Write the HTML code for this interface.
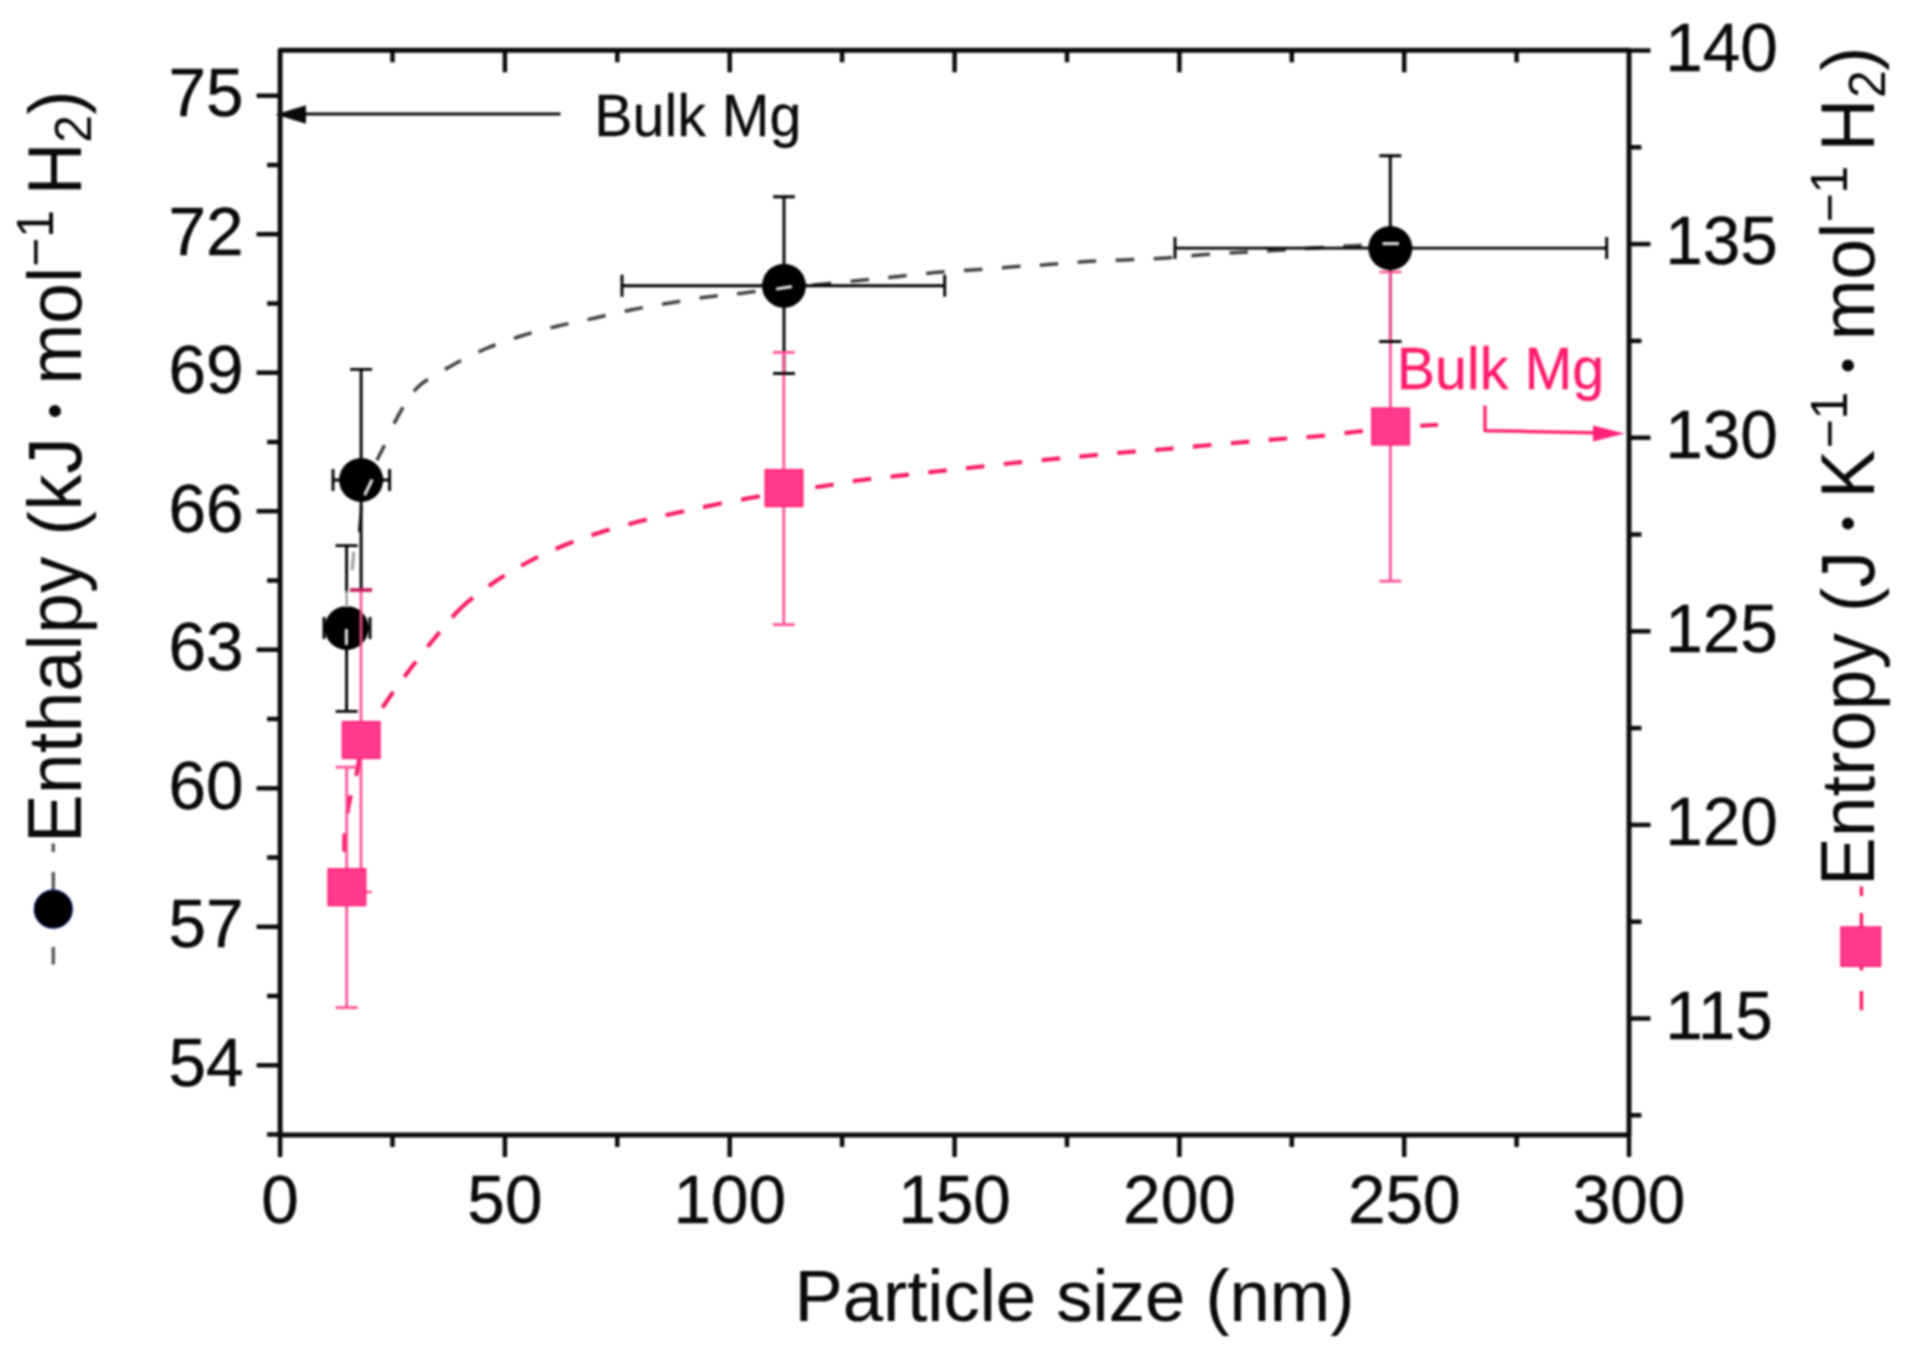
<!DOCTYPE html>
<html lang="en"><head><meta charset="utf-8"><title>Enthalpy and entropy vs particle size</title>
<style>html,body{margin:0;padding:0;background:#fff;}body{width:1907px;height:1359px;overflow:hidden;}svg{display:block;filter:blur(0.8px);}text{stroke-width:0.4px;stroke-linejoin:round;paint-order:stroke fill;}</style>
</head><body>
<svg width="1907" height="1359" viewBox="0 0 1907 1359">
<rect width="1907" height="1359" fill="#ffffff"/>
<g stroke="#0a0a0a" stroke-width="4.5" stroke-linecap="butt" fill="none">
<line x1="280.1" y1="1135.0" x2="280.1" y2="1157.0"/>
<line x1="392.5" y1="1135.0" x2="392.5" y2="1147.0"/>
<line x1="392.5" y1="50.3" x2="392.5" y2="62.3"/>
<line x1="504.9" y1="1135.0" x2="504.9" y2="1157.0"/>
<line x1="504.9" y1="50.3" x2="504.9" y2="72.3"/>
<line x1="617.3" y1="1135.0" x2="617.3" y2="1147.0"/>
<line x1="617.3" y1="50.3" x2="617.3" y2="62.3"/>
<line x1="729.7" y1="1135.0" x2="729.7" y2="1157.0"/>
<line x1="729.7" y1="50.3" x2="729.7" y2="72.3"/>
<line x1="842.1" y1="1135.0" x2="842.1" y2="1147.0"/>
<line x1="842.1" y1="50.3" x2="842.1" y2="62.3"/>
<line x1="954.6" y1="1135.0" x2="954.6" y2="1157.0"/>
<line x1="954.6" y1="50.3" x2="954.6" y2="72.3"/>
<line x1="1067.0" y1="1135.0" x2="1067.0" y2="1147.0"/>
<line x1="1067.0" y1="50.3" x2="1067.0" y2="62.3"/>
<line x1="1179.4" y1="1135.0" x2="1179.4" y2="1157.0"/>
<line x1="1179.4" y1="50.3" x2="1179.4" y2="72.3"/>
<line x1="1291.8" y1="1135.0" x2="1291.8" y2="1147.0"/>
<line x1="1291.8" y1="50.3" x2="1291.8" y2="62.3"/>
<line x1="1404.2" y1="1135.0" x2="1404.2" y2="1157.0"/>
<line x1="1404.2" y1="50.3" x2="1404.2" y2="72.3"/>
<line x1="1516.6" y1="1135.0" x2="1516.6" y2="1147.0"/>
<line x1="1516.6" y1="50.3" x2="1516.6" y2="62.3"/>
<line x1="1629.0" y1="1135.0" x2="1629.0" y2="1157.0"/>
<line x1="256.6" y1="95.7" x2="280.1" y2="95.7"/>
<line x1="267.1" y1="165.0" x2="280.1" y2="165.0"/>
<line x1="256.6" y1="234.2" x2="280.1" y2="234.2"/>
<line x1="267.1" y1="303.5" x2="280.1" y2="303.5"/>
<line x1="256.6" y1="372.7" x2="280.1" y2="372.7"/>
<line x1="267.1" y1="442.0" x2="280.1" y2="442.0"/>
<line x1="256.6" y1="511.2" x2="280.1" y2="511.2"/>
<line x1="267.1" y1="580.5" x2="280.1" y2="580.5"/>
<line x1="256.6" y1="649.7" x2="280.1" y2="649.7"/>
<line x1="267.1" y1="719.0" x2="280.1" y2="719.0"/>
<line x1="256.6" y1="788.3" x2="280.1" y2="788.3"/>
<line x1="267.1" y1="857.5" x2="280.1" y2="857.5"/>
<line x1="256.6" y1="926.8" x2="280.1" y2="926.8"/>
<line x1="267.1" y1="996.0" x2="280.1" y2="996.0"/>
<line x1="256.6" y1="1065.3" x2="280.1" y2="1065.3"/>
<line x1="267.1" y1="1134.5" x2="280.1" y2="1134.5"/>
<line x1="1629.0" y1="50.5" x2="1650.5" y2="50.5"/>
<line x1="1629.0" y1="147.3" x2="1641.5" y2="147.3"/>
<line x1="1629.0" y1="244.1" x2="1650.5" y2="244.1"/>
<line x1="1629.0" y1="340.9" x2="1641.5" y2="340.9"/>
<line x1="1629.0" y1="437.7" x2="1650.5" y2="437.7"/>
<line x1="1629.0" y1="534.5" x2="1641.5" y2="534.5"/>
<line x1="1629.0" y1="631.3" x2="1650.5" y2="631.3"/>
<line x1="1629.0" y1="728.1" x2="1641.5" y2="728.1"/>
<line x1="1629.0" y1="824.9" x2="1650.5" y2="824.9"/>
<line x1="1629.0" y1="921.7" x2="1641.5" y2="921.7"/>
<line x1="1629.0" y1="1018.5" x2="1650.5" y2="1018.5"/>
<line x1="1629.0" y1="1115.3" x2="1641.5" y2="1115.3"/>
</g>
<rect x="280.1" y="50.3" width="1348.9" height="1084.7" fill="none" stroke="#0a0a0a" stroke-width="4.9" stroke-linejoin="round"/>
<g font-family="Liberation Sans, Arial, Helvetica, sans-serif" font-size="67.5" fill="#0a0a0a" stroke="#0a0a0a">
<text transform="translate(243.5,1085.9) scale(1,1.02)" text-anchor="end">54</text>
<text transform="translate(243.5,947.4) scale(1,1.02)" text-anchor="end">57</text>
<text transform="translate(243.5,808.9) scale(1,1.02)" text-anchor="end">60</text>
<text transform="translate(243.5,670.3) scale(1,1.02)" text-anchor="end">63</text>
<text transform="translate(243.5,531.8) scale(1,1.02)" text-anchor="end">66</text>
<text transform="translate(243.5,393.3) scale(1,1.02)" text-anchor="end">69</text>
<text transform="translate(243.5,254.8) scale(1,1.02)" text-anchor="end">72</text>
<text transform="translate(243.5,116.3) scale(1,1.02)" text-anchor="end">75</text>
<text transform="translate(1665.2,1038.7) scale(1,1.02)">115</text>
<text transform="translate(1665.2,845.1) scale(1,1.02)">120</text>
<text transform="translate(1665.2,651.5) scale(1,1.02)">125</text>
<text transform="translate(1665.2,457.9) scale(1,1.02)">130</text>
<text transform="translate(1665.2,264.3) scale(1,1.02)">135</text>
<text transform="translate(1665.2,70.7) scale(1,1.02)">140</text>
<text transform="translate(280.1,1222.8) scale(1,1.02)" text-anchor="middle">0</text>
<text transform="translate(504.9,1222.8) scale(1,1.02)" text-anchor="middle">50</text>
<text transform="translate(729.7,1222.8) scale(1,1.02)" text-anchor="middle">100</text>
<text transform="translate(954.6,1222.8) scale(1,1.02)" text-anchor="middle">150</text>
<text transform="translate(1179.4,1222.8) scale(1,1.02)" text-anchor="middle">200</text>
<text transform="translate(1404.2,1222.8) scale(1,1.02)" text-anchor="middle">250</text>
<text transform="translate(1629.0,1222.8) scale(1,1.02)" text-anchor="middle">300</text>
</g>
<path id="gcurve" d="M398.0,416.0 C404.3,405.3 409.2,395.3 418.0,387.0 C426.8,378.7 439.8,372.3 451.0,366.0 C462.2,359.7 473.3,354.0 485.0,349.0 C496.7,344.0 508.8,339.8 521.0,336.0 C533.2,332.2 545.7,329.0 558.0,326.0 C570.3,323.0 582.5,320.8 595.0,318.0 C607.5,315.2 620.5,312.0 633.0,309.5 C645.5,307.0 657.7,305.1 670.0,303.0 C682.3,300.9 694.7,298.7 707.0,297.0 C719.3,295.3 731.2,294.5 744.0,293.0 C756.8,291.5 764.8,290.1 784.0,288.0 C803.2,285.9 840.3,282.4 859.0,280.5 C877.7,278.6 883.3,278.0 896.0,276.7 C908.7,275.4 922.3,273.7 935.0,272.6 C947.7,271.5 959.3,270.9 972.0,270.0 C984.7,269.1 998.3,267.9 1011.0,267.0 C1023.7,266.1 1035.5,265.5 1048.0,264.6 C1060.5,263.7 1073.3,262.4 1086.0,261.6 C1098.7,260.8 1111.3,260.6 1124.0,260.0 C1136.7,259.4 1149.5,259.0 1162.0,258.2 C1174.5,257.4 1186.3,256.0 1199.0,255.0 C1211.7,254.0 1225.3,253.1 1238.0,252.4 C1250.7,251.7 1259.7,251.5 1275.0,250.6 C1290.3,249.7 1310.8,248.1 1330.0,247.0 C1349.2,245.9 1380.0,244.5 1390.0,244.0" fill="none" stroke="#404040" stroke-width="3.5" stroke-dasharray="18.5 19.5" stroke-dashoffset="8.55"/>
<path d="M376.9,460.3 L384.5,445.2 M394.1,423.6 L398.4,415.3" fill="none" stroke="#404040" stroke-width="3.5"/>
<path id="pcurve0" d="M346.7,887.7 C346.3,880.1 343.9,855.8 344.3,842.0 C344.7,828.2 346.6,817.2 348.8,805.0 C351.0,792.8 355.5,779.8 357.5,769.0 C359.5,758.2 360.4,745.2 361.0,740.5" fill="none" stroke="#f81a66" stroke-width="4.1" stroke-dasharray="18.5 20" stroke-dashoffset="-36"/>
<path id="pcurveA" d="M361.0,740.5 C365.7,733.4 380.7,710.1 389.0,698.0 C397.3,685.9 403.5,677.8 411.0,668.0 C418.5,658.2 425.5,649.2 434.0,639.0 C442.5,628.8 451.7,616.7 462.0,607.0" fill="none" stroke="#f81a66" stroke-width="4.1" stroke-dasharray="19 19" stroke-dashoffset="-39.2"/>
<path id="pcurveB" d="M462.0,607.0 C472.3,597.3 484.7,588.7 496.0,581.0 C507.3,573.3 518.5,567.0 530.0,561.0 C541.5,555.0 553.3,549.8 565.0,545.0 C576.7,540.2 588.0,536.3 600.0,532.5 C612.0,528.7 624.8,525.2 637.0,522.0 C649.2,518.8 661.2,516.2 673.5,513.5 C685.8,510.8 698.2,508.1 711.0,505.5 C723.8,502.9 737.8,500.2 750.0,498.0 C762.2,495.8 771.7,494.0 784.0,492.0" fill="none" stroke="#f81a66" stroke-width="4.1" stroke-dasharray="19 19.4" stroke-dashoffset="4.5"/>
<path id="pcurveC" d="M784.0,492.0 C796.3,490.0 811.0,488.0 824.0,486.0 C837.0,484.0 849.3,481.7 862.0,480.0 C874.7,478.3 887.3,477.1 900.0,475.6 C912.7,474.2 925.5,472.7 938.0,471.3 C950.5,469.9 962.5,468.7 975.0,467.3 C987.5,465.9 1000.3,464.4 1013.0,463.0 C1025.7,461.6 1038.5,460.4 1051.0,459.2 C1063.5,458.0 1075.5,457.0 1088.0,455.8 C1100.5,454.6 1113.3,453.3 1126.0,452.2 C1138.7,451.1 1151.3,450.3 1164.0,449.2 C1176.7,448.1 1189.3,446.9 1202.0,445.8 C1214.7,444.7 1227.5,443.6 1240.0,442.5 C1252.5,441.4 1264.5,440.2 1277.0,439.2 C1289.5,438.2 1302.2,437.7 1315.0,436.5 C1327.8,435.3 1341.5,433.4 1354.0,432.0 C1366.5,430.6 1376.0,429.2 1390.0,428.0 C1404.0,426.8 1430.0,425.2 1438.0,424.7" fill="none" stroke="#f81a66" stroke-width="4.1" stroke-dasharray="18.5 19.5" stroke-dashoffset="6.4"/>
<line x1="359" y1="532" x2="361.5" y2="506" stroke="#333" stroke-width="2.6"/>
<line x1="352.2" y1="570" x2="353.8" y2="552" stroke="#9a9a9a" stroke-width="3"/>
<path d="M346.6,545.6 V711.4 M335.6,545.6 H357.6 M335.6,711.4 H357.6" stroke="#000000" stroke-width="2.9" fill="none"/>
<path d="M324,628 H370 M324,617.0 V639.0 M370,617.0 V639.0" stroke="#000000" stroke-width="2.9" fill="none"/>
<path d="M361.1,369.4 V590 M350.1,369.4 H372.1 M350.1,590 H372.1" stroke="#000000" stroke-width="2.9" fill="none"/>
<path d="M333,480 H389.6 M333,469.0 V491.0 M389.6,469.0 V491.0" stroke="#000000" stroke-width="2.9" fill="none"/>
<path d="M784,196.8 V373.4 M773.0,196.8 H795.0 M773.0,373.4 H795.0" stroke="#000000" stroke-width="2.9" fill="none"/>
<path d="M622,285.8 H944.7 M622,274.8 V296.8 M944.7,274.8 V296.8" stroke="#000000" stroke-width="2.9" fill="none"/>
<path d="M1390.3,155.7 V341.6 M1379.3,155.7 H1401.3 M1379.3,341.6 H1401.3" stroke="#000000" stroke-width="2.9" fill="none"/>
<path d="M1175,248.1 H1606.7 M1175,237.1 V259.1 M1606.7,237.1 V259.1" stroke="#000000" stroke-width="2.9" fill="none"/>
<path d="M346.7,767.1 V1007.7 M335.7,767.1 H357.7 M335.7,1007.7 H357.7" stroke="#ff4f97" stroke-width="2.7" fill="none"/>
<path d="M361.0,590 V892 M350.0,590 H372.0 M350.0,892 H372.0" stroke="#ff4f97" stroke-width="2.7" fill="none"/>
<path d="M783.8,352.4 V624.7 M772.8,352.4 H794.8 M772.8,624.7 H794.8" stroke="#ff4f97" stroke-width="2.7" fill="none"/>
<path d="M1390.4,272 V581.2 M1379.4,272 H1401.4 M1379.4,581.2 H1401.4" stroke="#ff4f97" stroke-width="2.7" fill="none"/>
<path d="M773,373.4 H795 M1379.3,341.6 H1401.3" stroke="#000000" stroke-width="2.9" fill="none"/>
<path d="M350,590 H372" stroke="#d0185c" stroke-width="3" fill="none"/>
<rect x="328.2" y="868.9000000000001" width="37.4" height="36.6" fill="#ff398c" stroke="#ff2077" stroke-width="1.6"/>
<rect x="342.5" y="721.7" width="37.4" height="36.6" fill="#ff398c" stroke="#ff2077" stroke-width="1.6"/>
<rect x="765.3" y="469.8" width="37.4" height="36.6" fill="#ff398c" stroke="#ff2077" stroke-width="1.6"/>
<rect x="1371.9" y="408.2" width="37.4" height="36.6" fill="#ff398c" stroke="#ff2077" stroke-width="1.6"/>
<circle cx="346.6" cy="628" r="22" fill="#000"/>
<circle cx="361.1" cy="480" r="22" fill="#000"/>
<circle cx="784" cy="285.8" r="22" fill="#000"/>
<circle cx="1390.3" cy="248.1" r="22" fill="#000"/>
<line x1="346.6" y1="591.5" x2="346.6" y2="607" stroke="#ffffff" stroke-width="4.5"/>
<line x1="346.6" y1="590" x2="346.6" y2="607" stroke="#60606a" stroke-width="1.5"/>
<line x1="361" y1="611" x2="361" y2="645" stroke="#ea4a85" stroke-width="2.8"/>
<g stroke="#dcdcdc" stroke-width="3.2" fill="none">
<line x1="346.4" y1="629" x2="346.4" y2="645"/>
<line x1="364.6" y1="495.3" x2="372.2" y2="479.5"/>
<line x1="776" y1="289" x2="792" y2="286.6"/>
<line x1="1382.5" y1="243.6" x2="1399" y2="243.6"/>
</g>
<line x1="560.5" y1="114" x2="300" y2="114" stroke="#0a0a0a" stroke-width="3.2"/>
<path d="M275.5,114.5 L306,105.3 L306,123.7 Z" fill="#0a0a0a"/>
<text transform="translate(594.2,135.8) scale(1,1.02)" font-family="Liberation Sans, Arial, Helvetica, sans-serif" font-size="57.4" fill="#0a0a0a" stroke="#0a0a0a" style="stroke-width:0.3px">Bulk Mg</text>
<path d="M1485,405.5 V430.6 L1597,432.8" fill="none" stroke="#ff1a6c" stroke-width="3.2"/>
<path d="M1624.5,433.6 L1593,425.6 L1593,441.4 Z" fill="#ff2077"/>
<text transform="translate(1396.8,389.3) scale(1,1.02)" font-family="Liberation Sans, Arial, Helvetica, sans-serif" font-size="57.4" fill="#ff1a6c" stroke="#ff1a6c" style="stroke-width:0.3px">Bulk Mg</text>
<text transform="translate(1074.4,1321.4) scale(1,1.035)" text-anchor="middle" font-family="Liberation Sans, Arial, Helvetica, sans-serif" font-size="70" fill="#0a0a0a" stroke="#0a0a0a" style="stroke-width:0.2px" textLength="560" lengthAdjust="spacingAndGlyphs">Particle size (nm)</text>
<g transform="translate(80.7,843) rotate(-90)" font-family="Liberation Sans, Arial, Helvetica, sans-serif" font-size="73" fill="#0a0a0a"><text transform="translate(0,0) scale(1,1.045)" letter-spacing="0.36">Enthalpy</text><text transform="translate(307.6,0) scale(1,1.02)">(</text><text transform="translate(332.3,0) scale(1,1.045)" letter-spacing="0.36">kJ</text><text transform="translate(424.3,-11)" font-size="44">•</text><text transform="translate(458.5,0) scale(1,1.045)">mol</text><text transform="translate(576,-27.8) scale(1,1.03)" font-size="50">−1</text><text transform="translate(647.8,0) scale(1,1.045)">H</text><text transform="translate(700.2,10.5) scale(1,1.03)" font-size="50">2</text><text transform="translate(728.2,0) scale(1,1.02)">)</text></g>
<g transform="translate(1874.3,886) rotate(-90)" font-family="Liberation Sans, Arial, Helvetica, sans-serif" font-size="73" fill="#0a0a0a"><text transform="translate(0,0) scale(1,1.045)" letter-spacing="0.25">Entropy</text><text transform="translate(273.9,0) scale(1,1.02)">(</text><text transform="translate(298.5,0) scale(1,1.045)">J</text><text transform="translate(354.8,-11)" font-size="44">•</text><text transform="translate(387.6,0) scale(1,1.045)">K</text><text transform="translate(437.4,-27.8) scale(1,1.03)" font-size="50">−1</text><text transform="translate(512.8,-11)" font-size="44">•</text><text transform="translate(545.8,0) scale(1,1.045)">mol</text><text transform="translate(663.4,-27.8) scale(1,1.03)" font-size="50">−1</text><text transform="translate(734.6,0) scale(1,1.045)">H</text><text transform="translate(788.1,10.5) scale(1,1.03)" font-size="50">2</text><text transform="translate(815.1,0) scale(1,1.02)">)</text></g>
<g stroke="#555" stroke-width="3.4"><line x1="53.3" y1="843.5" x2="53.3" y2="852"/><line x1="53.3" y1="872" x2="53.3" y2="892"/><line x1="53.3" y1="947" x2="53.3" y2="964.5"/></g>
<circle cx="53.3" cy="909.2" r="19" fill="#000" stroke="#0b1a6a" stroke-width="1.2"/>
<g stroke="#f81a66" stroke-width="3.4"><line x1="1861.4" y1="886.6" x2="1861.4" y2="896"/><line x1="1861.4" y1="913" x2="1861.4" y2="928"/><line x1="1861.4" y1="966" x2="1861.4" y2="970.5"/><line x1="1861.4" y1="991" x2="1861.4" y2="1010.2"/></g>
<rect x="1841" y="927.1" width="39.6" height="39.1" fill="#ff398c" stroke="#ff2077" stroke-width="1.6"/>
</svg>
</body></html>
